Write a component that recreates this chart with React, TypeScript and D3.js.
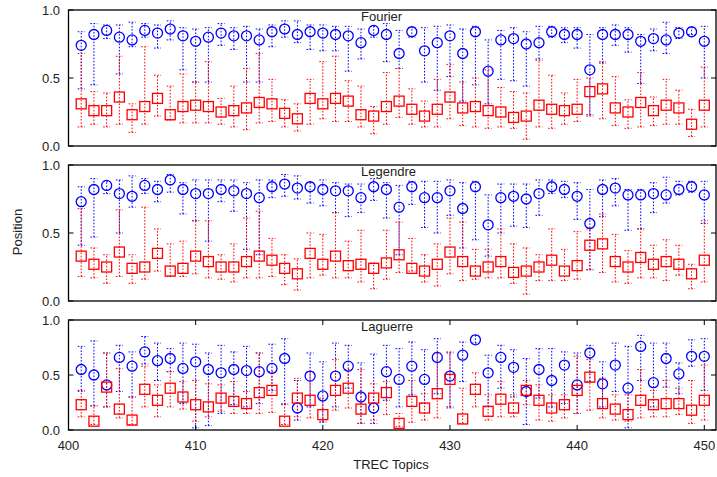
import React from "react";
import * as d3 from "d3";

const topics = [401,402,403,404,405,406,407,408,409,410,411,412,413,414,415,416,417,418,419,420,421,422,423,424,425,426,427,428,429,430,431,432,433,434,435,436,437,438,439,440,441,442,443,444,445,446,447,448,449,450];
const xTicks = [400, 410, 420, 430, 440, 450];
const yTicks = [0, 0.5, 1];
const panelNames = ["Fourier", "Legendre", "Laguerre"];

const fourierBlueMed = [0.74,0.82,0.85,0.80,0.78,0.85,0.83,0.86,0.81,0.77,0.80,0.83,0.81,0.81,0.78,0.84,0.86,0.82,0.84,0.83,0.82,0.81,0.76,0.85,0.82,0.68,0.84,0.70,0.76,0.81,0.68,0.84,0.55,0.78,0.79,0.75,0.76,0.84,0.82,0.82,0.56,0.82,0.82,0.82,0.77,0.79,0.78,0.83,0.84,0.77];
const fourierBlueHi = [0.84,0.90,0.89,0.89,0.91,0.90,0.89,0.92,0.87,0.86,0.87,0.90,0.87,0.88,0.86,0.89,0.92,0.92,0.89,0.89,0.88,0.88,0.86,0.88,0.90,0.85,0.87,0.87,0.88,0.89,0.86,0.88,0.78,0.85,0.87,0.84,0.88,0.88,0.87,0.87,0.82,0.87,0.89,0.87,0.82,0.86,0.91,0.87,0.87,0.88];
const fourierBlueLo = [0.42,0.45,0.79,0.53,0.73,0.80,0.72,0.78,0.56,0.47,0.47,0.74,0.71,0.47,0.47,0.73,0.80,0.76,0.71,0.70,0.70,0.55,0.64,0.80,0.62,0.57,0.80,0.47,0.41,0.51,0.33,0.45,0.31,0.49,0.48,0.44,0.64,0.80,0.76,0.72,0.23,0.61,0.74,0.69,0.46,0.70,0.68,0.79,0.82,0.50];
const fourierRedMed = [0.31,0.26,0.26,0.36,0.23,0.29,0.35,0.23,0.29,0.30,0.29,0.25,0.26,0.28,0.32,0.31,0.24,0.20,0.35,0.31,0.35,0.33,0.23,0.22,0.29,0.33,0.27,0.22,0.27,0.36,0.28,0.29,0.26,0.25,0.21,0.22,0.30,0.27,0.26,0.27,0.40,0.42,0.28,0.25,0.32,0.26,0.30,0.28,0.16,0.30];
const fourierRedHi = [0.68,0.40,0.39,0.66,0.31,0.73,0.52,0.44,0.53,0.47,0.62,0.35,0.44,0.57,0.68,0.49,0.34,0.31,0.49,0.62,0.66,0.48,0.44,0.29,0.54,0.57,0.42,0.33,0.49,0.60,0.47,0.50,0.56,0.43,0.40,0.39,0.63,0.52,0.39,0.49,0.50,0.62,0.51,0.34,0.54,0.36,0.49,0.41,0.27,0.58];
const fourierRedLo = [0.14,0.16,0.14,0.16,0.10,0.16,0.22,0.19,0.17,0.17,0.17,0.16,0.14,0.12,0.17,0.18,0.14,0.11,0.16,0.20,0.18,0.18,0.14,0.09,0.16,0.21,0.16,0.14,0.14,0.20,0.15,0.14,0.13,0.14,0.13,0.05,0.14,0.13,0.16,0.18,0.22,0.20,0.15,0.13,0.14,0.15,0.16,0.16,0.07,0.14];

const legendreBlueMed = [0.73,0.82,0.85,0.79,0.77,0.85,0.82,0.89,0.82,0.79,0.79,0.82,0.81,0.79,0.76,0.84,0.86,0.83,0.84,0.82,0.81,0.81,0.76,0.84,0.82,0.69,0.84,0.76,0.76,0.81,0.68,0.84,0.56,0.76,0.77,0.75,0.79,0.84,0.82,0.77,0.57,0.82,0.83,0.78,0.78,0.79,0.78,0.82,0.84,0.78];
const legendreBlueHi = [0.84,0.90,0.88,0.89,0.92,0.90,0.88,0.93,0.87,0.89,0.89,0.89,0.89,0.87,0.89,0.89,0.93,0.92,0.87,0.89,0.87,0.86,0.86,0.90,0.87,0.85,0.88,0.88,0.88,0.89,0.87,0.88,0.78,0.86,0.86,0.86,0.89,0.89,0.88,0.87,0.82,0.89,0.90,0.82,0.82,0.87,0.91,0.88,0.88,0.88];
const legendreBlueLo = [0.41,0.47,0.79,0.50,0.69,0.79,0.73,0.80,0.64,0.59,0.44,0.73,0.66,0.38,0.34,0.76,0.77,0.75,0.72,0.70,0.65,0.62,0.65,0.74,0.61,0.34,0.71,0.54,0.50,0.63,0.39,0.45,0.33,0.50,0.55,0.54,0.63,0.79,0.76,0.60,0.23,0.62,0.70,0.52,0.53,0.65,0.72,0.78,0.80,0.57];
const legendreRedMed = [0.33,0.27,0.25,0.36,0.24,0.25,0.35,0.22,0.24,0.33,0.29,0.25,0.25,0.29,0.33,0.30,0.24,0.20,0.35,0.27,0.33,0.26,0.27,0.24,0.28,0.34,0.24,0.22,0.27,0.36,0.29,0.22,0.25,0.29,0.21,0.22,0.25,0.30,0.22,0.26,0.41,0.42,0.29,0.25,0.32,0.27,0.29,0.27,0.20,0.30];
const legendreRedHi = [0.68,0.39,0.34,0.67,0.34,0.69,0.53,0.42,0.44,0.59,0.59,0.34,0.42,0.61,0.66,0.46,0.34,0.31,0.50,0.49,0.65,0.44,0.52,0.28,0.52,0.58,0.46,0.34,0.42,0.61,0.58,0.38,0.38,0.53,0.42,0.39,0.34,0.53,0.38,0.51,0.53,0.64,0.49,0.37,0.53,0.41,0.45,0.41,0.27,0.59];
const legendreRedLo = [0.18,0.17,0.13,0.18,0.13,0.16,0.22,0.18,0.18,0.20,0.17,0.16,0.14,0.17,0.17,0.18,0.12,0.08,0.17,0.19,0.17,0.17,0.14,0.09,0.16,0.21,0.22,0.14,0.11,0.20,0.15,0.16,0.17,0.17,0.13,0.05,0.15,0.15,0.15,0.16,0.23,0.21,0.14,0.13,0.17,0.17,0.15,0.19,0.09,0.14];

const laguerreBlueMed = [0.55,0.50,0.41,0.66,0.58,0.71,0.63,0.65,0.56,0.62,0.55,0.52,0.55,0.54,0.53,0.56,0.65,0.20,0.49,0.31,0.49,0.58,0.30,0.20,0.53,0.46,0.58,0.46,0.66,0.49,0.68,0.82,0.52,0.66,0.57,0.35,0.55,0.45,0.59,0.41,0.70,0.42,0.59,0.38,0.76,0.43,0.65,0.51,0.67,0.67];
const laguerreBlueHi = [0.76,0.81,0.70,0.77,0.71,0.85,0.79,0.74,0.79,0.78,0.70,0.77,0.71,0.76,0.70,0.78,0.83,0.45,0.70,0.62,0.79,0.77,0.61,0.69,0.77,0.74,0.80,0.73,0.83,0.70,0.80,0.86,0.68,0.77,0.73,0.65,0.74,0.74,0.71,0.70,0.77,0.62,0.79,0.76,0.86,0.79,0.79,0.61,0.82,0.83];
const laguerreBlueLo = [0.36,0.22,0.21,0.35,0.30,0.60,0.45,0.53,0.24,0.02,0.04,0.15,0.23,0.21,0.24,0.36,0.23,0.09,0.21,0.07,0.21,0.38,0.06,0.06,0.27,0.21,0.32,0.24,0.33,0.21,0.44,0.79,0.21,0.38,0.30,0.05,0.29,0.21,0.24,0.15,0.44,0.21,0.35,0.02,0.45,0.21,0.39,0.33,0.58,0.36];
const laguerreRedMed = [0.23,0.08,0.39,0.19,0.09,0.37,0.27,0.38,0.30,0.23,0.21,0.29,0.26,0.24,0.34,0.36,0.08,0.29,0.27,0.14,0.36,0.38,0.19,0.29,0.34,0.06,0.26,0.20,0.33,0.46,0.10,0.37,0.17,0.28,0.20,0.36,0.27,0.20,0.23,0.36,0.48,0.24,0.19,0.14,0.27,0.23,0.24,0.24,0.18,0.27];
const laguerreRedHi = [0.35,0.22,0.70,0.56,0.30,0.58,0.41,0.53,0.44,0.45,0.42,0.41,0.44,0.35,0.70,0.53,0.24,0.47,0.53,0.29,0.64,0.55,0.55,0.42,0.44,0.15,0.45,0.33,0.70,0.71,0.38,0.52,0.32,0.44,0.32,0.45,0.41,0.32,0.32,0.67,0.64,0.47,0.32,0.32,0.55,0.36,0.45,0.38,0.45,0.59];
const laguerreRedLo = [0.12,0.05,0.21,0.11,0.05,0.21,0.12,0.21,0.19,0.08,0.12,0.17,0.15,0.15,0.15,0.16,0.05,0.12,0.11,0.08,0.18,0.20,0.06,0.09,0.14,0.03,0.07,0.09,0.11,0.20,0.06,0.21,0.09,0.12,0.12,0.23,0.09,0.08,0.11,0.15,0.18,0.11,0.09,0.08,0.11,0.12,0.12,0.14,0.06,0.09];

const W = 717, H = 477;
const FONT = "'Liberation Sans', Arial, Helvetica, sans-serif";
const BLUE = "#0000ff";
const RED = "#ff0000";

const panelLayouts = [
  { top: 10, bottom: 146 },
  { top: 165, bottom: 301 },
  { top: 320, bottom: 430 },
];

const series = [
  [
    { med: fourierBlueMed, lo: fourierBlueLo, hi: fourierBlueHi, color: BLUE, shape: "circle" },
    { med: fourierRedMed, lo: fourierRedLo, hi: fourierRedHi, color: RED, shape: "square" },
  ],
  [
    { med: legendreBlueMed, lo: legendreBlueLo, hi: legendreBlueHi, color: BLUE, shape: "circle" },
    { med: legendreRedMed, lo: legendreRedLo, hi: legendreRedHi, color: RED, shape: "square" },
  ],
  [
    { med: laguerreBlueMed, lo: laguerreBlueLo, hi: laguerreBlueHi, color: BLUE, shape: "circle" },
    { med: laguerreRedMed, lo: laguerreRedLo, hi: laguerreRedHi, color: RED, shape: "square" },
  ],
];

export default function App() {
  const x = d3.scaleLinear().domain([400, 450.92]).range([68.5, 716]);
  const left = 68.5, right = 716;
  const capW = 3.5;
  const dash = "1.6,1.6";

  return (
    <svg width={W} height={H} viewBox={`0 0 ${W} ${H}`} style={{ position: "absolute", left: 0, top: 0, background: "#fff" }}>
      <rect x={0} y={0} width={W} height={H} fill="#fff" />
      {panelLayouts.map((pl, pi) => {
        const y = d3.scaleLinear().domain([0, 1]).range([pl.bottom, pl.top]);
        const isLast = pi === panelLayouts.length - 1;
        return (
          <g key={pi}>
            {/* whiskers */}
            {series[pi].map((s, si) => (
              <g key={"w" + si} stroke={s.color} strokeWidth={1} strokeDasharray={dash} fill="none">
                {topics.map((t, i) => {
                  const cx = x(t);
                  return (
                    <g key={t}>
                      <line x1={cx} x2={cx} y1={y(s.lo[i])} y2={y(s.hi[i])} />
                      <line x1={cx - capW} x2={cx + capW} y1={y(s.lo[i])} y2={y(s.lo[i])} />
                      <line x1={cx - capW} x2={cx + capW} y1={y(s.hi[i])} y2={y(s.hi[i])} />
                    </g>
                  );
                })}
              </g>
            ))}
            {/* markers */}
            {series[pi].map((s, si) => (
              <g key={"m" + si} stroke={s.color} strokeWidth={1.3} fill="none">
                {topics.map((t, i) => {
                  const cx = x(t);
                  const cy = y(s.med[i]);
                  return s.shape === "circle" ? (
                    <circle key={t} cx={cx} cy={cy} r={5} />
                  ) : (
                    <rect key={t} x={cx - 5} y={cy - 5} width={10} height={10} />
                  );
                })}
              </g>
            ))}
            {/* frame */}
            <rect x={left} y={pl.top} width={right - left} height={pl.bottom - pl.top} fill="none" stroke="#000" strokeWidth={1.3} />
            {/* y ticks */}
            {yTicks.map((v) => (
              <g key={v}>
                <line x1={left} x2={left + 5} y1={y(v)} y2={y(v)} stroke="#000" strokeWidth={1} />
                <line x1={right - 5} x2={right} y1={y(v)} y2={y(v)} stroke="#000" strokeWidth={1} />
                <text x={60} y={y(v)} dy="0.35em" textAnchor="end" fontFamily={FONT} fontSize={13} fill="#222">
                  {d3.format(".1f")(v)}
                </text>
              </g>
            ))}
            {/* x ticks on last panel */}
            {isLast &&
              xTicks.map((v) => (
                <g key={v}>
                  <line x1={x(v)} x2={x(v)} y1={pl.bottom} y2={pl.bottom - 5} stroke="#000" strokeWidth={1} />
                  <line x1={x(v)} x2={x(v)} y1={pl.top} y2={pl.top + 5} stroke="#000" strokeWidth={1} />
                  <text x={x(v)} y={pl.bottom + 20} textAnchor="middle" fontFamily={FONT} fontSize={13} fill="#222">
                    {v}
                  </text>
                </g>
              ))}
            {/* panel title */}
            <text x={361} y={pl.top + 11} fontFamily={FONT} fontSize={13} fill="#222">
              {panelNames[pi]}
            </text>
          </g>
        );
      })}
      <text transform="translate(22,232) rotate(-90)" textAnchor="middle" fontFamily={FONT} fontSize={13} fill="#222">
        Position
      </text>
      <text x={391} y={469} textAnchor="middle" fontFamily={FONT} fontSize={13} fill="#222">
        TREC Topics
      </text>
    </svg>
  );
}
